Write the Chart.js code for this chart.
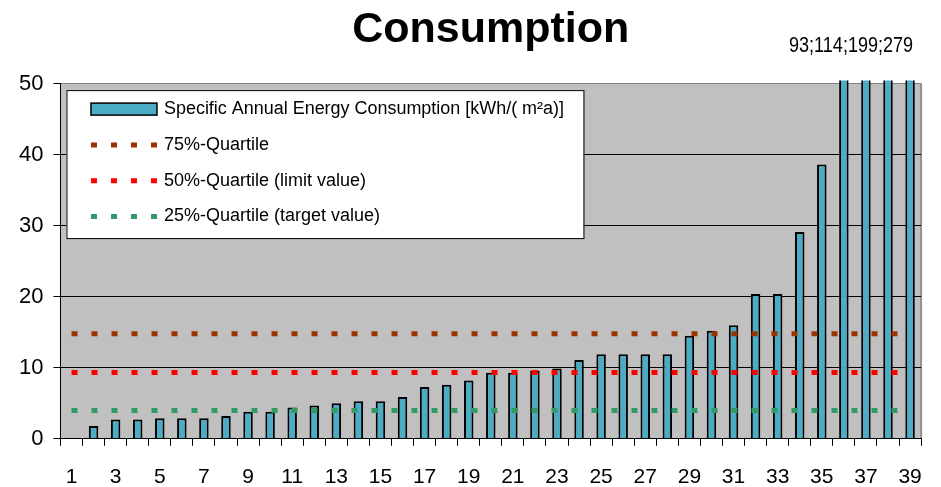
<!DOCTYPE html>
<html lang="en">
<head>
<meta charset="UTF-8">
<title>Consumption</title>
<script src="https://cdn.jsdelivr.net/npm/chart.js"></script>
<style>
  body { margin: 0; background: #fff; }
  #wrap { width: 941px; height: 487px; }
</style>
</head>
<body>
<div id="wrap"><canvas id="chart"></canvas></div>
<script>
  // buildings, sorted by consumption
  const buildings = ['1', '2', '3', '4', '5', '6', '7', '8', '9', '10',
    '11', '12', '13', '14', '15', '16', '17', '18', '19', '20',
    '21', '22', '23', '24', '25', '26', '27', '28', '29', '30',
    '31', '32', '33', '34', '35', '36', '37', '38', '39'];
  const consumption = [0, 1.8, 2.7, 2.7, 2.9, 2.9, 2.9, 3.2, 3.8, 3.8,
    4.4, 4.7, 5.0, 5.3, 5.3, 5.9, 7.3, 7.6, 8.2, 9.3,
    9.3, 9.6, 9.9, 11.1, 11.9, 11.9, 11.9, 11.9, 14.5, 15.2,
    16.0, 20.4, 20.4, 29.1, 38.6, 93, 114, 199, 279];
  const quartile75 = 14.8;
  const quartile50 = 9.35;
  const quartile25 = 4.0;
  const yTicks = [0, 10, 20, 30, 40, 50];
  const Y_MAX = 50;

  const ARIAL = '"Liberation Sans", Arial, sans-serif';

  function flatLine(v) {
    return [{ x: buildings[0], y: v }, { x: buildings[buildings.length - 1], y: v }];
  }

  // grey plot area
  const plotBg = {
    id: 'plotBg',
    beforeDraw(chart) {
      const { ctx, chartArea: a } = chart;
      ctx.save();
      ctx.fillStyle = '#c0c0c0';
      ctx.fillRect(a.left, a.top, a.right - a.left, a.bottom - a.top);
      ctx.strokeStyle = '#909090';
      ctx.lineWidth = 2;
      ctx.beginPath();
      ctx.moveTo(a.right, a.top);
      ctx.lineTo(a.right, a.bottom);
      ctx.stroke();
      ctx.restore();
    }
  };

  // legend box inside the plot, like the excel one
  const boxLegend = {
    id: 'boxLegend',
    afterDatasetsDraw(chart) {
      const { ctx, chartArea: a } = chart;
      const left = a.left + 6, top = a.top + 6.5, w = 517, h = 148;
      ctx.save();
      ctx.fillStyle = '#fff';
      ctx.fillRect(left, top, w, h);
      ctx.strokeStyle = '#000';
      ctx.lineWidth = 1;
      ctx.strokeRect(left + 0.5, top + 0.5, w, h);
      ctx.font = '18px ' + ARIAL;
      ctx.textBaseline = 'middle';
      chart.data.datasets.forEach((ds, i) => {
        const y = top + 19 + i * 35.8;
        const x0 = left + 24.5;
        if (!ds.type) {
          ctx.fillStyle = ds.backgroundColor;
          ctx.fillRect(x0, y - 6, 66, 12);
          ctx.strokeStyle = ds.borderColor;
          ctx.lineWidth = 1.5;
          ctx.strokeRect(x0, y - 6, 66, 12);
        } else {
          ctx.strokeStyle = ds.borderColor;
          ctx.lineWidth = ds.borderWidth;
          ctx.setLineDash(ds.borderDash);
          ctx.beginPath();
          ctx.moveTo(x0, y);
          ctx.lineTo(x0 + 68, y);
          ctx.stroke();
          ctx.setLineDash([]);
        }
        ctx.fillStyle = '#000';
        // squeeze the long label a little, the original font is narrower
        const tw = ctx.measureText(ds.label).width;
        const sx = Math.min(1, 400 / tw);
        ctx.save();
        ctx.translate(left + 97.5, y);
        ctx.scale(sx, 1);
        ctx.fillText(ds.label, 0, 0);
        ctx.restore();
      });
      ctx.restore();
    }
  };

  // values that run off the top of the axis, narrow text like in the original
  const offScale = {
    id: 'offScale',
    afterDraw(chart) {
      const { ctx, chartArea: a } = chart;
      const text = consumption.filter(v => v > Y_MAX).join(';');
      ctx.save();
      ctx.font = '22px ' + ARIAL;
      ctx.fillStyle = '#000';
      ctx.textAlign = 'right';
      ctx.textBaseline = 'alphabetic';
      ctx.translate(a.right - 8, 51.5);
      ctx.scale(0.82, 1);
      ctx.fillText(text, 0, 0);
      ctx.restore();
    }
  };

  new Chart(document.getElementById('chart'), {
    type: 'bar',
    data: {
      labels: buildings,
      datasets: [
        {
          label: 'Specific Annual Energy Consumption [kWh/( m²a)]',
          data: consumption,
          backgroundColor: '#4bacc6',
          borderColor: '#000',
          borderWidth: 2,
          categoryPercentage: 1,
          barPercentage: 0.43,
          clip: { left: 0, right: 0, top: 3, bottom: 0 },
          order: 1
        },
        {
          type: 'line',
          label: '75%-Quartile',
          data: flatLine(quartile75),
          borderColor: '#993300',
          borderWidth: 5,
          borderDash: [6, 14],
          pointRadius: 0,
          fill: false,
          order: 0
        },
        {
          type: 'line',
          label: '50%-Quartile (limit value)',
          data: flatLine(quartile50),
          borderColor: '#ff0000',
          borderWidth: 5,
          borderDash: [6, 14],
          pointRadius: 0,
          fill: false,
          order: 0
        },
        {
          type: 'line',
          label: '25%-Quartile (target value)',
          data: flatLine(quartile25),
          borderColor: '#339966',
          borderWidth: 5,
          borderDash: [6, 14],
          pointRadius: 0,
          fill: false,
          order: 0
        }
      ]
    },
    options: {
      responsive: true,
      maintainAspectRatio: false,
      animation: false,
      layout: { padding: { left: 9, right: 19, top: 0, bottom: -22 } },
      plugins: {
        legend: { display: false },
        tooltip: { enabled: false },
        title: {
          display: true,
          text: 'Consumption',
          fullSize: false,
          color: '#000',
          font: { family: ARIAL, size: 43, weight: 'bold' },
          padding: { top: 4, bottom: 28 }
        }
      },
      scales: {
        x: {
          grid: { offset: true, drawOnChartArea: false, tickLength: 7, color: '#000' },
          border: { color: '#000', width: 1 },
          ticks: {
            autoSkip: false,
            maxRotation: 0,
            padding: 19,
            color: '#000',
            font: { family: ARIAL, size: 21 },
            callback: (v, i) => (i % 2 === 0 ? buildings[i] : '')
          }
        },
        y: {
          min: 0,
          max: Y_MAX,
          afterBuildTicks: scale => { scale.ticks = yTicks.map(v => ({ value: v })); },
          grid: {
            color: c => (c.tick && c.tick.value === Y_MAX ? '#808080' : '#000'),
            tickColor: '#000',
            tickLength: 7
          },
          border: { color: '#000', width: 1 },
          ticks: { padding: 10, color: '#000', font: { family: ARIAL, size: 22 } }
        }
      }
    },
    plugins: [plotBg, boxLegend, offScale]
  });
</script>
</body>
</html>
